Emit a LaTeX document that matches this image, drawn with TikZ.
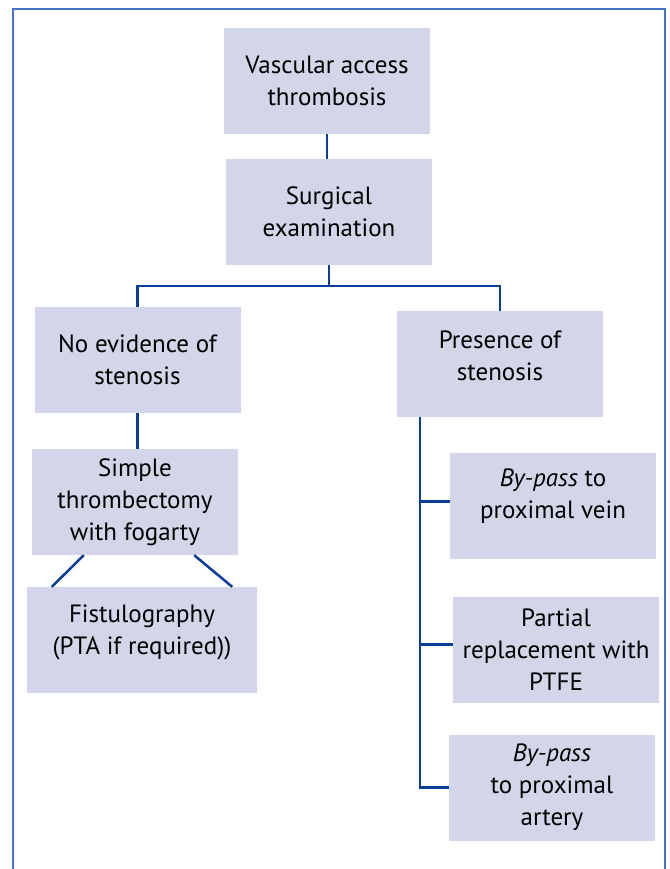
\documentclass[tikz,border=0pt]{standalone}
\usepackage{fontspec}
\setmainfont{PT Sans}
\definecolor{boxfill}{RGB}{211,214,232}
\definecolor{linkblue}{RGB}{10,60,155}
\definecolor{frameblue}{RGB}{70,115,195}
\begin{document}
\begin{tikzpicture}[x=1pt,y=-1pt,
  stage/.style={fill=boxfill,minimum width=206pt,minimum height=106pt,inner sep=0pt,
    align=center,font=\fontsize{25}{32}\selectfont},
  link/.style={draw=linkblue,line width=2.5pt}]
   \useasboundingbox (0,0) rectangle (669,869);
   \draw[frameblue,line width=1.6pt] (13,869) -- (13,9) -- (665,9) -- (665,869);

   \node[stage] (vat)     at (327,81)    {Vascular access\\thrombosis};
   \node[stage] (surg)    at (329,212)   {Surgical\\examination};
   \node[stage] (noev)    at (137.5,360) {No evidence of\\stenosis};
   \node[stage] (pres)    at (500,364)   {Presence of\\stenosis\rule[-16pt]{0pt}{0pt}};
   \node[stage] (simple)  at (135,502)   {Simple\\thrombectomy\\with fogarty};
   \node[stage,minimum width=230pt] (fist) at (142,640) {Fistulography\\(PTA if required))\rule[-20pt]{0pt}{0pt}};
   \node[stage] (bpvein)  at (553,505.5) {\textit{By-pass} to\\proximal vein\rule[-24pt]{0pt}{0pt}};
   \node[stage] (partial) at (556,649.5) {Partial\\replacement with\\PTFE};
   \node[stage] (bpart)   at (552,787.5) {\textit{By-pass}\\to proximal\\artery};

   \coordinate (split) at (329,286);
   \coordinate (trunk) at ([xshift=23pt]pres.south west);
   \coordinate (veinjoin) at ([yshift=4pt]bpvein.west);
   \coordinate (ptfejoin) at ([yshift=5pt]partial.west);

   \draw[link] (vat.south) -- (vat.south |- surg.north);
   \draw[link] (surg.south) -- (split);
   \draw[link] (noev.north) |- (split) -| (pres.north);
   \draw[link] (noev.south) -- (noev.south |- simple.north);
   \draw[link] ([xshift=52pt]simple.south west) -- ([xshift=25pt]fist.north west);
   \draw[link] ([xshift=-44pt]simple.south east) -- ([xshift=-25pt]fist.north east);
   \draw[link] (trunk) |- (bpart.west);
   \draw[link] (trunk |- veinjoin) -- (veinjoin);
   \draw[link] (trunk |- ptfejoin) -- (ptfejoin);
\end{tikzpicture}
\end{document}
